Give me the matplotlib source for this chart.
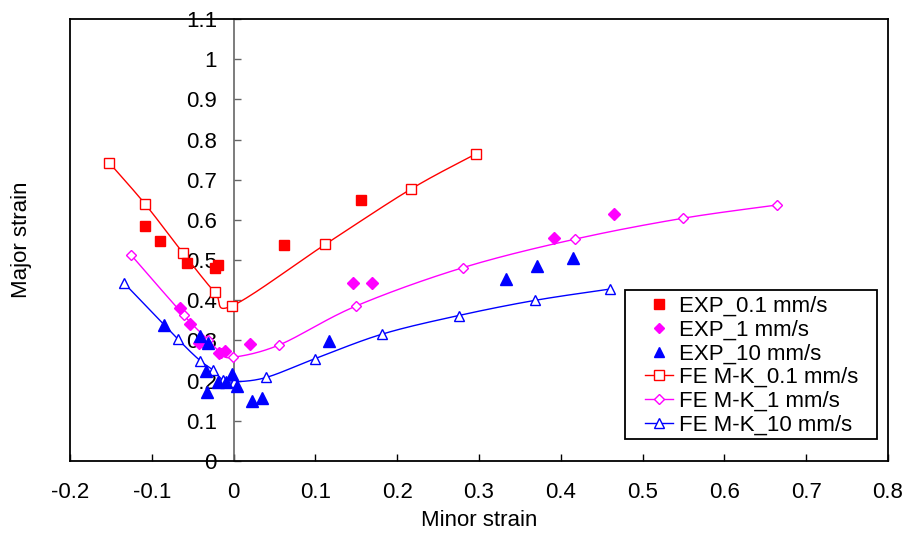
import numpy as np
import matplotlib
matplotlib.use("Agg")
import matplotlib.pyplot as plt
from matplotlib.lines import Line2D
from matplotlib.patches import Rectangle

plt.rcParams['font.family'] = ['Liberation Sans', 'DejaVu Sans']

# ---- data ----
exp01_x = [-0.108, -0.0905, -0.057, -0.023, -0.019, 0.062, 0.156]
exp01_y = [0.585, 0.548, 0.494, 0.481, 0.488, 0.537, 0.649]

exp1_x = [-0.065, -0.053, -0.042, -0.018, -0.010, 0.020, 0.146, 0.169, 0.392, 0.4645]
exp1_y = [0.380, 0.341, 0.293, 0.270, 0.274, 0.291, 0.442, 0.443, 0.556, 0.614]

exp10_x = [-0.085, -0.041, -0.031, -0.034, -0.033, -0.019, -0.009, -0.002, 0.004,
           0.022, 0.035, 0.117, 0.333, 0.371, 0.415]
exp10_y = [0.338, 0.312, 0.293, 0.225, 0.172, 0.197, 0.197, 0.217, 0.187,
           0.150, 0.157, 0.299, 0.452, 0.485, 0.504]

fe01_x = [-0.152, -0.108, -0.062, -0.023, -0.002, 0.112, 0.217, 0.296]
fe01_y = [0.742, 0.639, 0.518, 0.420, 0.386, 0.539, 0.677, 0.764]

fe1_x = [-0.125, -0.061, -0.031, -0.015, -0.001, 0.056, 0.150, 0.280, 0.417, 0.549, 0.664]
fe1_y = [0.512, 0.363, 0.301, 0.268, 0.258, 0.289, 0.386, 0.481, 0.552, 0.604, 0.637]

fe10_x = [-0.1345, -0.068, -0.041, -0.025, -0.013, 0.001, 0.040, 0.100, 0.182, 0.275, 0.369, 0.4605]
fe10_y = [0.444, 0.303, 0.250, 0.226, 0.2015, 0.197, 0.208, 0.255, 0.316, 0.362, 0.400, 0.428]

labels = ["EXP_0.1 mm/s", "EXP_1 mm/s", "EXP_10 mm/s",
          "FE M-K_0.1 mm/s", "FE M-K_1 mm/s", "FE M-K_10 mm/s"]
x_ticks = [-0.2, -0.1, 0, 0.1, 0.2, 0.3, 0.4, 0.5, 0.6, 0.7, 0.8]
y_ticks = [0, 0.1, 0.2, 0.3, 0.4, 0.5, 0.6, 0.7, 0.8, 0.9, 1, 1.1]


def smooth(xs, ys, n=30):
    """Excel-style smoothed line (cubic Bezier through the points)."""
    p = np.column_stack([xs, ys]).astype(float)
    out = [p[0]]
    m = len(p)
    for i in range(m - 1):
        p0 = p[i - 1] if i > 0 else p[i]
        p1 = p[i]
        p2 = p[i + 1]
        p3 = p[i + 2] if i + 2 < m else p[i + 1]
        c1 = p1 + (p2 - p0) / 6.0
        c2 = p2 - (p3 - p1) / 6.0
        t = np.linspace(0, 1, n)[1:, None]
        seg = ((1 - t) ** 3) * p1 + 3 * ((1 - t) ** 2) * t * c1 + 3 * (1 - t) * t ** 2 * c2 + t ** 3 * p2
        out.extend(seg)
    out = np.array(out)
    return out[:, 0], out[:, 1]


fig = plt.figure(figsize=(9.09, 5.38), dpi=100)
ax = fig.add_axes([70 / 909, 1 - 461 / 538, 818 / 909, 442 / 538])

RED, MAG, BLUE = '#FF0000', '#FF00FF', '#0000FF'
fs = 16

# FE lines
for xs, ys, c, mk, ms in [(fe01_x, fe01_y, RED, 's', 7.5),
                          (fe1_x, fe1_y, MAG, 'D', 5),
                          (fe10_x, fe10_y, BLUE, '^', 7.5)]:
    sx, sy = smooth(xs, ys)
    ax.plot(sx, sy, color=c, lw=1.0, zorder=3)
    ax.plot(xs, ys, ls='none', marker=mk, ms=ms, mfc='white', mec=c, mew=1.0, zorder=4)

# EXP points
ax.plot(exp01_x, exp01_y, ls='none', marker='s', ms=7, color=RED, zorder=5)
ax.plot(exp1_x, exp1_y, ls='none', marker='D', ms=6, color=MAG, zorder=5)
ax.plot(exp10_x, exp10_y, ls='none', marker='^', ms=8, color=BLUE, zorder=5)

ax.set_xlim(-0.2, 0.8)
ax.set_ylim(0, 1.1)
ax.set_xticks(x_ticks)
ax.set_xticklabels([f"{v:g}" for v in x_ticks])
ax.set_yticks(y_ticks)
ax.set_yticklabels([f"{v:g}" for v in y_ticks])

ax.spines['left'].set_position(('data', 0))
ax.spines['left'].set_color('#666666')
ax.spines['left'].set_linewidth(1.2)
for s in ['top', 'right', 'bottom']:
    ax.spines[s].set_color('black')
    ax.spines[s].set_linewidth(1.3)
ax.plot([0, 0], [0, 1], transform=ax.transAxes, color='black', lw=1.3, clip_on=False, zorder=6)

ax.tick_params(axis='x', direction='in', length=5, width=1, pad=15, labelsize=fs, colors='black')
ax.tick_params(axis='y', direction='in', length=5, width=1, pad=12, labelsize=fs,
               color='#666666', labelcolor='black')

ax.set_xlabel("Minor strain", fontsize=fs, labelpad=5)
fig.text(22 / 909, 1 - 240 / 538, "Major strain", rotation=90, fontsize=fs,
         ha='center', va='center')

# legend box
ax.add_patch(Rectangle(((625 - 70) / 818, (461 - 439) / 442), 252 / 818, 149 / 442,
                       transform=ax.transAxes, facecolor='white', edgecolor='black',
                       lw=1.3, zorder=9, clip_on=False))
handles = [
    Line2D([], [], ls='none', marker='s', ms=7, color=RED),
    Line2D([], [], ls='none', marker='D', ms=5.5, color=MAG),
    Line2D([], [], ls='none', marker='^', ms=7, color=BLUE),
    Line2D([], [], color=RED, lw=1.0, marker='s', ms=7, mfc='white', mec=RED),
    Line2D([], [], color=MAG, lw=1.0, marker='D', ms=5, mfc='white', mec=MAG),
    Line2D([], [], color=BLUE, lw=1.0, marker='^', ms=7, mfc='white', mec=BLUE),
]
leg = ax.legend(handles, labels, loc='upper left',
                bbox_to_anchor=((645 - 70) / 818, (461 - 296) / 442),
                borderaxespad=0, fontsize=fs, frameon=False,
                labelspacing=0.12, handlelength=1.25, handletextpad=0.3,
                borderpad=0, numpoints=1)
leg.set_zorder(10)

fig.savefig("out.png", dpi=100)
